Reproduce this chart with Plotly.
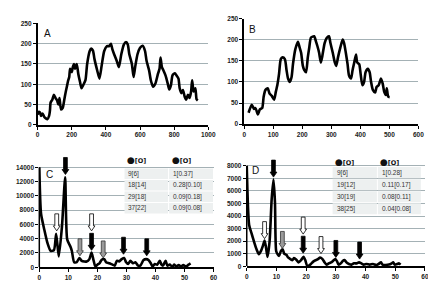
import plotly.graph_objects as go

W, H = 436, 283

# ---------------- data ----------------
a_x = [0, 6, 14, 20, 29, 38, 48, 57, 67, 72, 76, 86, 95, 105, 114, 121, 128, 137, 147, 156, 164, 171, 178, 185, 190,
       200, 206, 213, 219, 229, 238, 248, 257, 267, 280, 290, 305, 314, 324, 333, 349, 362, 375, 390, 406, 419, 429,
       438, 448, 463, 476, 490, 505, 518, 528, 537, 552, 562, 571, 585, 600, 615, 629, 638, 653, 663, 676, 690, 705,
       714, 720, 728, 737, 749, 762, 771, 781, 790, 804, 813, 825, 832, 842, 851, 861, 870, 880, 890, 899, 905, 914,
       924, 931, 938]
a_y = [25, 32, 30, 22, 28, 20, 16, 14, 22, 35, 55, 62, 74, 66, 60, 50, 66, 38, 42, 62, 80, 94, 108, 118, 138,
       130, 142, 150, 138, 150, 126, 106, 90, 98, 110, 150, 182, 188, 183, 162, 134, 114, 146, 182, 194, 194, 200,
       186, 174, 158, 142, 174, 198, 204, 198, 174, 150, 118, 142, 174, 190, 195, 182, 158, 134, 110, 94, 102, 126,
       138, 166, 142, 134, 122, 102, 87, 98, 122, 127, 122, 114, 90, 78, 86, 70, 62, 74, 66, 82, 110, 82, 90, 63, 60]

b_x = [15, 26, 34, 39, 47, 54, 62, 67, 73, 81, 87, 95, 103, 109, 114, 120, 126, 132, 140, 146, 151, 157, 163, 168,
       176, 185, 191, 196, 202, 207, 213, 219, 224, 230, 241, 247, 252, 258, 264, 269, 277, 284, 292, 297, 305, 312,
       317, 323, 331, 339, 344, 350, 356, 361, 368, 373, 379, 385, 389, 396, 401, 407, 413, 418, 426, 432, 437, 443,
       451, 456, 463, 471, 477, 482, 488, 491, 496, 501]
b_y = [27, 46, 36, 38, 23, 35, 38, 65, 81, 85, 73, 67, 58, 77, 92, 119, 154, 158, 154, 127, 108, 100, 111, 142,
       177, 195, 181, 169, 138, 128, 123, 158, 181, 205, 208, 196, 185, 169, 146, 161, 192, 204, 208, 192, 169, 146,
       138, 158, 181, 200, 192, 169, 142, 115, 108, 127, 146, 165, 146, 142, 119, 92, 100, 123, 131, 123, 100, 81,
       75, 88, 92, 108, 96, 77, 69, 85, 65, 64]

c_x = [0, 0.6, 1.7, 2.8, 3.9, 5.05, 5.8, 6.7, 7.8, 8.9, 9.6, 10.7, 11.2, 12.0, 12.9, 13.8, 14.6, 15.5, 16.3, 17.2,
       18.0, 18.6, 19.3, 20.0, 20.7, 21.5, 22.4, 23.0, 24.1, 25.2, 26.0, 26.7, 27.5, 28.4, 29.2, 29.9, 30.6, 31.4,
       32.3, 33.1, 34.0, 34.8, 35.9, 36.8, 37.6, 38.4, 39.0, 39.8, 40.6, 41.5, 42.1, 42.6, 43.5, 44.1, 44.9, 45.8,
       46.5, 47.1, 48.0, 48.8, 49.6, 50.5, 51.4, 52.1]
c_y = [14000, 7500, 5300, 3400, 2300, 2400, 4700, 1500, 5700, 12600, 3900, 2900, 2300, 700, 700, 1300, 900, 800,
       800, 1100, 2050, 1100, 100, 360, 550, 1050, 1140, 700, 550, 360, 230, 900, 820, 1140, 1300, 700, 450, 900,
       550, 700, 230, 230, 1000, 1140, 1000, 550, 90, 450, 360, 900, 360, 230, 900, 230, 360, 90, 360, 90, 300, 90,
       300, 90, 360, 550]

d_x = [0, 0.8, 1.6, 2.4, 3.3, 4.1, 4.8, 5.4, 6.0, 6.5, 7.0, 7.7, 8.4, 9.0, 9.5, 9.9, 10.4, 10.9, 11.5, 12.1, 12.6,
       13.4, 13.9, 14.7, 15.4, 15.9, 16.7, 17.4, 18.3, 19.1, 19.7, 20.3, 20.8, 21.6, 22.5, 23.3, 24.0, 24.7, 25.5,
       26.2, 26.9, 27.6, 28.4, 29.1, 29.8, 30.4, 30.9, 31.7, 32.4, 32.9, 33.7, 34.4, 35.3, 36.1, 37.0, 37.8, 38.6,
       39.4, 40.3, 41.4, 42.5, 43.6, 44.4, 45.2, 45.7, 46.8, 47.9, 48.8, 49.3, 49.8, 50.7, 51.2, 51.8]
d_y = [8000, 3290, 2640, 2000, 1350, 960, 1220, 1600, 2050, 1480, 750, 2000, 5360, 6900, 5100, 1220, 960, 830,
       1220, 1350, 1000, 900, 700, 570, 490, 650, 520, 310, 490, 750, 490, 50, 30, 180, 390, 490, 570, 700, 570,
       310, 130, 230, 310, 440, 570, 390, 130, 230, 440, 490, 280, 180, 130, 230, 230, 310, 230, 130, 180, 130,
       180, 100, 180, 310, 130, 100, 130, 230, 310, 130, 180, 230, 130]

# arrows: x position, tip value, style
c_arrow_x = [9, 6, 18, 14, 18, 22, 29, 37]
c_arrow_tip = [13000, 5100, 5100, 1600, 2370, 1300, 1820, 1600]
c_arrow_kind = ["black", "white", "white", "gray", "black", "gray", "black", "black"]

d_arrow_x = [9, 6, 12, 19, 19, 25, 30, 38]
d_arrow_tip = [7100, 2200, 1420, 2560, 1040, 1010, 700, 570]
d_arrow_kind = ["black", "white", "gray", "white", "black", "white", "black", "black"]

table_header = ["[O]", "[O]"]
c_col1 = ["9[6]", "18[14]", "29[18]", "37[22]"]
c_col2 = ["1[0.37]", "0.28[0.10]", "0.09[0.18]", "0.09[0.08]"]
d_col1 = ["9[6]", "19[12]", "30[19]", "38[25]"]
d_col2 = ["1[0.28]", "0.11[0.17]", "0.08[0.11]", "0.04[0.08]"]

# ---------------- layout helpers ----------------
def px_x(p):
    return p / W

def px_y(p):
    return 1 - p / H

GRID = "#a4b1b5"
TICKFONT = dict(family="Liberation Sans", size=6.5, color="#222", weight="bold")

fig = go.Figure()

panels = [
    ("", a_x, a_y, (28.3, 203.0), (115.7, 11.7), [0, 1000], list(range(0, 1001, 200)), [0, 250], list(range(0, 251, 50))),
    ("2", b_x, b_y, (239.7, 418.0), (115.0, 6.7), [0, 600], list(range(0, 601, 100)), [0, 250], list(range(0, 251, 50))),
    ("3", c_x, c_y, (30.0, 208.3), (261.7, 147.6), [0, 60], list(range(0, 61, 10)), [0, 15600], list(range(0, 14001, 2000))),
    ("4", d_x, d_y, (242.3, 424.7), (260.7, 148.7), [0, 60], list(range(0, 61, 10)), [0, 8700], list(range(0, 8001, 1000))),
]

for i, (sfx, xs, ys, xd, yd, xr, xt, yr, yt) in enumerate(panels):
    fig.add_trace(go.Scatter(x=xs, y=ys, mode="lines", line=dict(color="black", width=2.6, shape="spline", smoothing=0.6),
                             xaxis="x" + sfx, yaxis="y" + sfx, showlegend=False, hoverinfo="skip"))
    ax = dict(domain=[px_x(xd[0]), px_x(xd[1])], range=xr, tickvals=xt, tickformat="d", showgrid=False, zeroline=False,
              showline=True, linecolor="black", linewidth=1.5, ticks="outside", ticklen=3, tickwidth=1,
              tickcolor="black", tickfont=TICKFONT, anchor="y" + sfx, fixedrange=True)
    ay = dict(domain=[px_y(yd[0]), px_y(yd[1])], range=yr, tickvals=yt, tickformat="d", showgrid=True, gridcolor=GRID,
              gridwidth=1.3, zeroline=False, showline=(i < 2), linecolor="black", linewidth=1.5, ticks="outside",
              ticklen=3, tickwidth=1, tickcolor="black", tickfont=TICKFONT, anchor="x" + sfx, fixedrange=True)
    fig.update_layout(**{"xaxis" + sfx: ax, "yaxis" + sfx: ay})

shapes = []
for sfx, xd, top in [("3", 30.0, 14000), ("4", 242.3, 8000)]:
    shapes.append(dict(type="line", xref="paper", yref="y" + sfx, x0=px_x(xd), x1=px_x(xd), y0=0, y1=top,
                       line=dict(color="black", width=1.5), layer="above"))

ARROW = "M0,0 L-3.4,5 L-1.9,5 L-1.9,17 L1.9,17 L1.9,5 L3.4,5 Z"
fills = {"black": ("black", "black"), "white": ("white", "black"), "gray": ("#9a9a9a", "#333")}
for sfx, axs, tips, kinds in [("3", c_arrow_x, c_arrow_tip, c_arrow_kind), ("4", d_arrow_x, d_arrow_tip, d_arrow_kind)]:
    for x, t, k in zip(axs, tips, kinds):
        fc, lc = fills[k]
        shapes.append(dict(type="path", xref="x" + sfx, yref="y" + sfx, xsizemode="pixel", ysizemode="pixel",
                           xanchor=x, yanchor=t, path=ARROW, fillcolor=fc, line=dict(color=lc, width=0.8),
                           layer="above"))

annotations = []
for lbl, px, py in [("A", 33, 22), ("B", 243, 17.5), ("C", 35, 167), ("D", 246, 163)]:
    annotations.append(dict(text=lbl, xref="paper", yref="paper", x=px_x(px), y=px_y(py), xanchor="left",
                            yanchor="middle", showarrow=False, font=dict(family="Liberation Sans", size=10, color="#111")))

CELL = "#edf0f0"
TFONT = dict(family="Liberation Sans", size=6.5, color="#333")
for col1, col2, (x0, xm, x1), (ytop, ybot), hy in [
    (c_col1, c_col2, (116.7, 162.3, 208.3), (160.0, 207.0), 152.0),
    (d_col1, d_col2, (329.7, 376.0, 421.0), (158.5, 208.0), 153.5),
]:
    n = len(col1)
    rh = (ybot - ytop) / n
    for j, (h, (cx0, cx1)) in enumerate(zip(table_header, [(x0, xm), (xm, x1)])):
        annotations.append(dict(text="<span style='font-size:9px'>●</span><b>" + h + "</b>", xref="paper",
                                yref="paper", x=px_x(cx0 + 1), y=px_y(hy), xanchor="left", yanchor="middle",
                                showarrow=False, font=dict(family="DejaVu Sans", size=6.5, color="#111")))
    for r in range(n):
        ry0 = ytop + r * rh
        ry1 = ry0 + rh
        for (cx0, cx1), txt in [((x0, xm), col1[r]), ((xm, x1), col2[r])]:
            shapes.append(dict(type="rect", xref="paper", yref="paper", x0=px_x(cx0 + 0.5), x1=px_x(cx1 - 0.5),
                               y0=px_y(ry0 + 0.5), y1=px_y(ry1 - 0.5), fillcolor=CELL, line=dict(width=0),
                               layer="above"))
            annotations.append(dict(text=txt, xref="paper", yref="paper", x=px_x(cx0 + 2.5), y=px_y((ry0 + ry1) / 2),
                                    xanchor="left", yanchor="middle", showarrow=False, font=TFONT))

fig.update_layout(width=W, height=H, margin=dict(l=0, r=0, t=0, b=0), paper_bgcolor="white", plot_bgcolor="white",
                  shapes=shapes, annotations=annotations, showlegend=False)

fig.write_html("out.html", config={"displayModeBar": False})
